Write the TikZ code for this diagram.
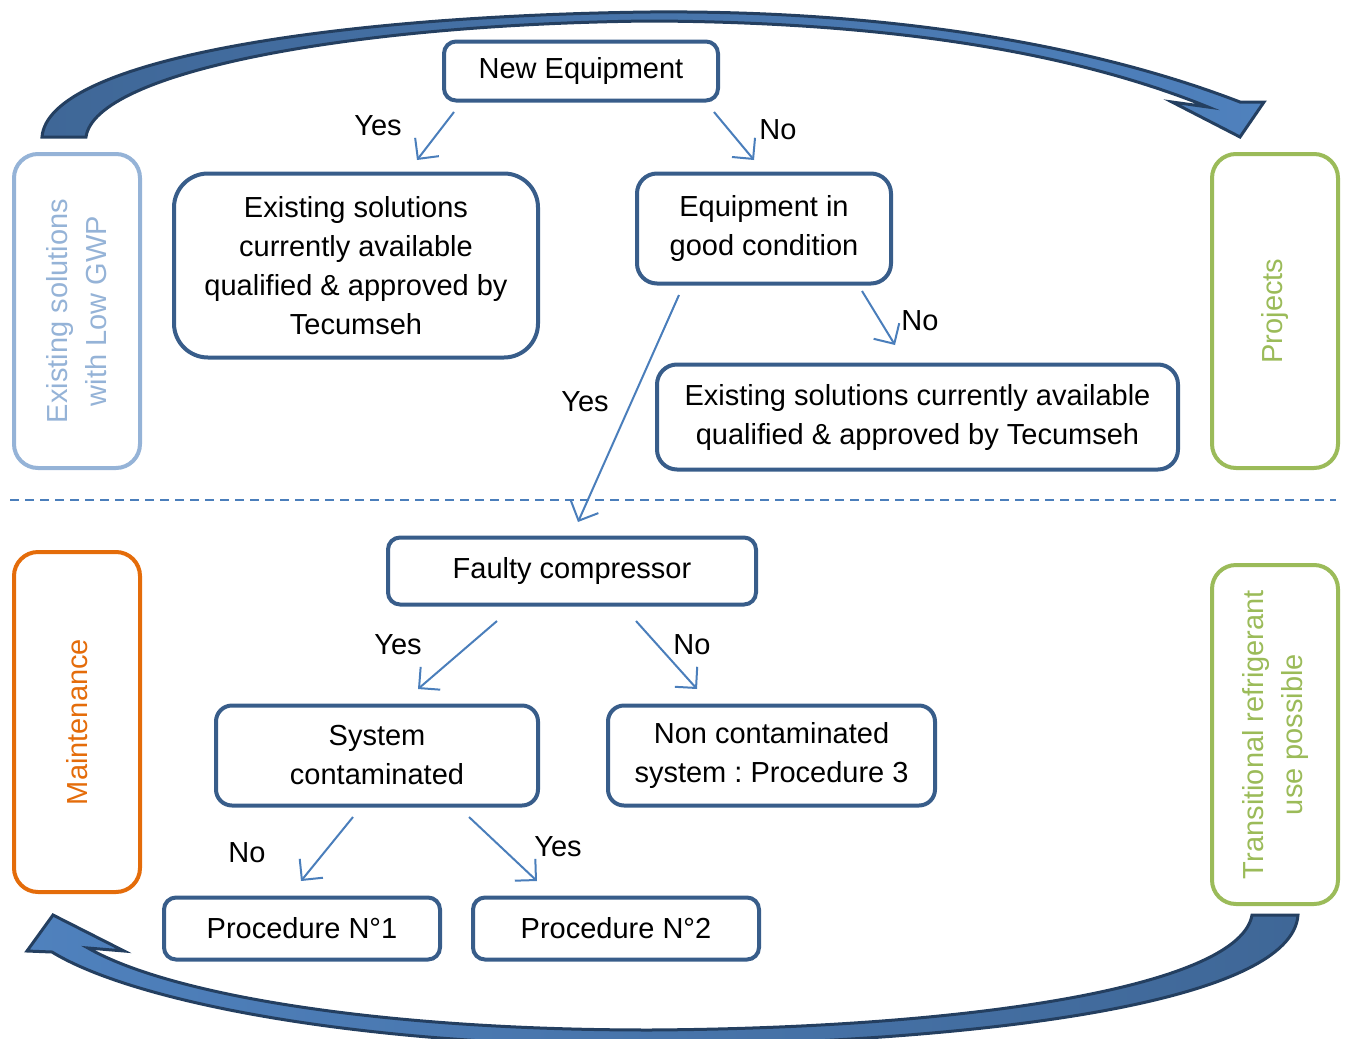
\documentclass[tikz,border=0pt]{standalone}
\usepackage{fontspec}
\setmainfont{Liberation Sans}
\usetikzlibrary{arrows.meta}
\definecolor{boxblue}{HTML}{385D8A}
\definecolor{arrblue}{HTML}{4A7EBB}
\definecolor{darkout}{HTML}{243F60}
\definecolor{fillA}{HTML}{3F6797}
\definecolor{fillB}{HTML}{4F81BD}
\definecolor{lblue}{HTML}{95B3D7}
\definecolor{ogreen}{HTML}{9BBB59}
\definecolor{oorange}{HTML}{E46C0A}
\frenchspacing
\begin{document}
\begin{tikzpicture}[x=1pt,y=-1pt,
  every node/.style={font=\fontsize{29}{39}\selectfont},
  mainbox/.style={draw=boxblue, line width=4pt, rounded corners=12pt, align=center, inner sep=0pt, fill=white, yshift=-1.5pt},
  sidebox/.style={line width=4pt, rounded corners=24pt, inner sep=0pt, align=center, rotate=90, minimum height=126pt},
  conn/.style={draw=arrblue, line width=2pt, -{Straight Barb[length=15pt,width=30pt,line width=2pt]}},
  lbl/.style={text=black, inner sep=0pt}]
\useasboundingbox (0,0) rectangle (1347,1039);
\clip (0,0) rectangle (1347,1039);

% big curved arrows
\path[draw=darkout, line width=3pt, left color=fillA, right color=fillB]
 (42,137) .. controls (48,60) and (330,16) .. (650,12) .. controls (900,10) and (1100,48) .. (1240,102)
 -- (1264,102) -- (1240,137) -- (1172,102) -- (1208,107)
 .. controls (1080,55) and (900,22) .. (650,21) .. controls (350,24) and (95,72) .. (86,137) -- cycle;
\path[draw=darkout, line width=3pt, left color=fillB, right color=fillA]
 (1298,915) .. controls (1292,1000) and (1000,1042) .. (650,1046) .. controls (350,1046) and (130,1000) .. (52,952)
 -- (27,951) -- (53,915) -- (124,951) -- (88,948)
 .. controls (170,995) and (380,1030) .. (650,1030) .. controls (980,1028) and (1240,985) .. (1252,915) -- cycle;

% dashed separator
\coordinate (dl) at (10,500);
\coordinate (dr) at (1336,500);
\draw[arrblue, line width=1.5pt, dash pattern=on 9pt off 6pt] (dl) -- (dr);

% side boxes
\node[sidebox, draw=lblue, text=lblue, minimum width=314pt] (gwp) at (77,311) {Existing solutions\\with Low GWP};
\node[sidebox, draw=ogreen, text=ogreen, minimum width=314pt] (proj) at (1275,311) {Projects};
\node[sidebox, draw=oorange, text=oorange, minimum width=340pt] (maint) at (77,722) {Maintenance};
\node[sidebox, draw=ogreen, text=ogreen, minimum width=339pt] (trans) at (1275,734.5) {Transitional refrigerant\\use possible};

% main boxes
\node[mainbox, minimum width=274pt, minimum height=59pt] (new) at (581,69.5) {New Equipment};
\node[mainbox, rounded corners=34pt, minimum width=364pt, minimum height=184pt] (exl) at (356,264) {Existing solutions\\currently available\\qualified \& approved by\\Tecumseh};
\node[mainbox, rounded corners=20pt, minimum width=254pt, minimum height=110pt] (good) at (764,227) {Equipment in\\good condition};
\node[mainbox, rounded corners=20pt, minimum width=521pt, minimum height=105pt] (exr) at (917.5,415.5) {Existing solutions currently available\\qualified \& approved by Tecumseh};
\node[mainbox, minimum width=368pt, minimum height=67pt] (faulty) at (572,569.5) {Faulty compressor};
\node[mainbox, rounded corners=16pt, minimum width=322pt, minimum height=100pt] (sys) at (377,754) {System\\contaminated};
\node[mainbox, rounded corners=16pt, minimum width=327pt, minimum height=100pt] (noncont) at (771.5,754) {Non contaminated\\system : Procedure 3};
\node[mainbox, minimum width=276pt, minimum height=62pt] (p1) at (302,927) {Procedure N°1};
\node[mainbox, minimum width=286pt, minimum height=62pt] (p2) at (616,927) {Procedure N°2};

% connector end points
\coordinate (a1s) at (454,112); \coordinate (a1e) at (417,160);
\coordinate (a2s) at (714,112); \coordinate (a2e) at (754,160);
\coordinate (a3s) at (862,291); \coordinate (a3e) at (895,345);
\coordinate (a4s) at (679,295); \coordinate (a4e) at (578,522);
\coordinate (a5s) at (497,621); \coordinate (a5e) at (418,689);
\coordinate (a6s) at (636,621); \coordinate (a6e) at (697,689);
\coordinate (a7s) at (353,817); \coordinate (a7e) at (301,881);
\coordinate (a8s) at (469,817); \coordinate (a8e) at (537,881);
\draw[conn] (a1s) -- (a1e);
\draw[conn] (a2s) -- (a2e);
\draw[conn] (a3s) -- (a3e);
\draw[conn] (a4s) -- (a4e);
\draw[conn] (a5s) -- (a5e);
\draw[conn] (a6s) -- (a6e);
\draw[conn] (a7s) -- (a7e);
\draw[conn] (a8s) -- (a8e);

% labels
\node[lbl] (l1) at (378,126) {Yes};
\node[lbl] (l2) at (778,130) {No};
\node[lbl] (l3) at (920,321) {No};
\node[lbl] (l4) at (585,402) {Yes};
\node[lbl] (l5) at (398,645) {Yes};
\node[lbl] (l6) at (692,645) {No};
\node[lbl] (l7) at (247,853) {No};
\node[lbl] (l8) at (558,847) {Yes};
\end{tikzpicture}
\end{document}
